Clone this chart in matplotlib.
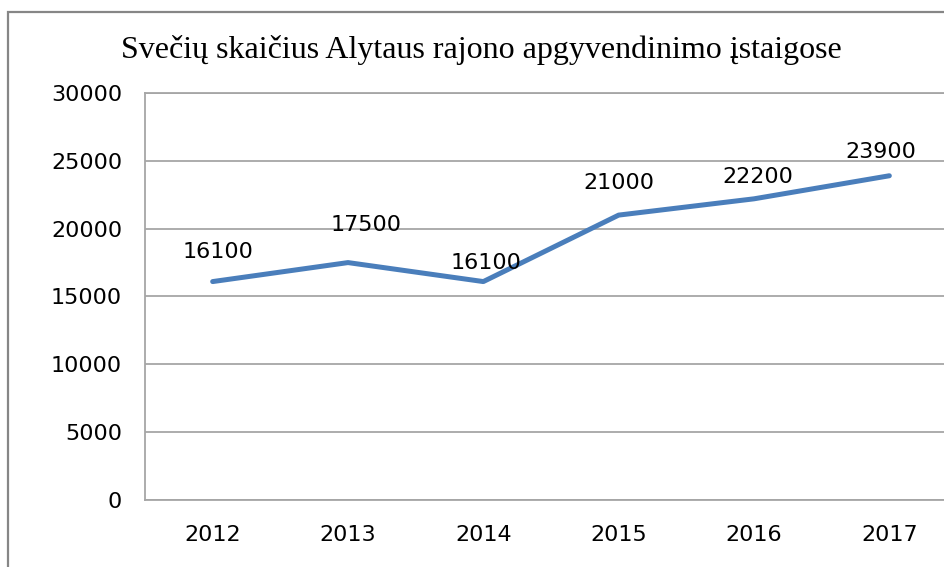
import matplotlib.pyplot as plt
from matplotlib.patches import Rectangle

years = ['2012', '2013', '2014', '2015', '2016', '2017']
guests = [16100, 17500, 16100, 21000, 22200, 23900]
y_ticks = [0, 5000, 10000, 15000, 20000, 25000, 30000]
title = 'Svečių skaičius Alytaus rajono apgyvendinimo įstaigose'

# label offsets in pixels (dx, dy)
label_off = [(5, 30), (18, 38), (3, 19), (0, 32), (4, 22), (-9, 24)]

W, H = 944, 567
fig = plt.figure(figsize=(W / 100, H / 100), dpi=100)

# outer chart frame (runs off the right and bottom edges)
fig.patches.append(Rectangle((8 / W, -0.05), 1.1, 1 - 12 / H + 0.05,
                             transform=fig.transFigure, fill=False,
                             edgecolor='#868686', linewidth=1.6))

ax = fig.add_axes([145 / W, (H - 500) / H, (957 - 145) / W, 407 / H])
x = list(range(len(years)))
ax.plot(x, guests, color='#4a7ebb', linewidth=3.6, solid_capstyle='round')
ax.set_xlim(-0.5, len(years) - 0.5)
ax.set_ylim(0, 30000)
ax.set_yticks(y_ticks)
ax.set_yticklabels([str(v) for v in y_ticks])
ax.set_xticks(x)
ax.set_xticklabels(years)
ax.tick_params(length=0, labelsize=16, colors='black', labelfontfamily='DejaVu Sans')
ax.tick_params(axis='y', pad=16.5)
ax.tick_params(axis='x', pad=18)
ax.grid(axis='y', color='#a6a6a6', linewidth=1.3)
ax.set_axisbelow(True)
for s in ax.spines.values():
    s.set_color('#a6a6a6')
    s.set_linewidth(1.3)

for i, v in enumerate(guests):
    dx, dy = label_off[i]
    ax.annotate(str(v), (i, v), xytext=(dx * 0.72, dy * 0.72), textcoords='offset points',
                ha='center', va='center', fontsize=16, family='DejaVu Sans')

fig.text(481 / W, 1 - 50 / H, title, ha='center', va='center',
         fontsize=23, family='Liberation Serif')

fig.savefig('out.png', dpi=100)
